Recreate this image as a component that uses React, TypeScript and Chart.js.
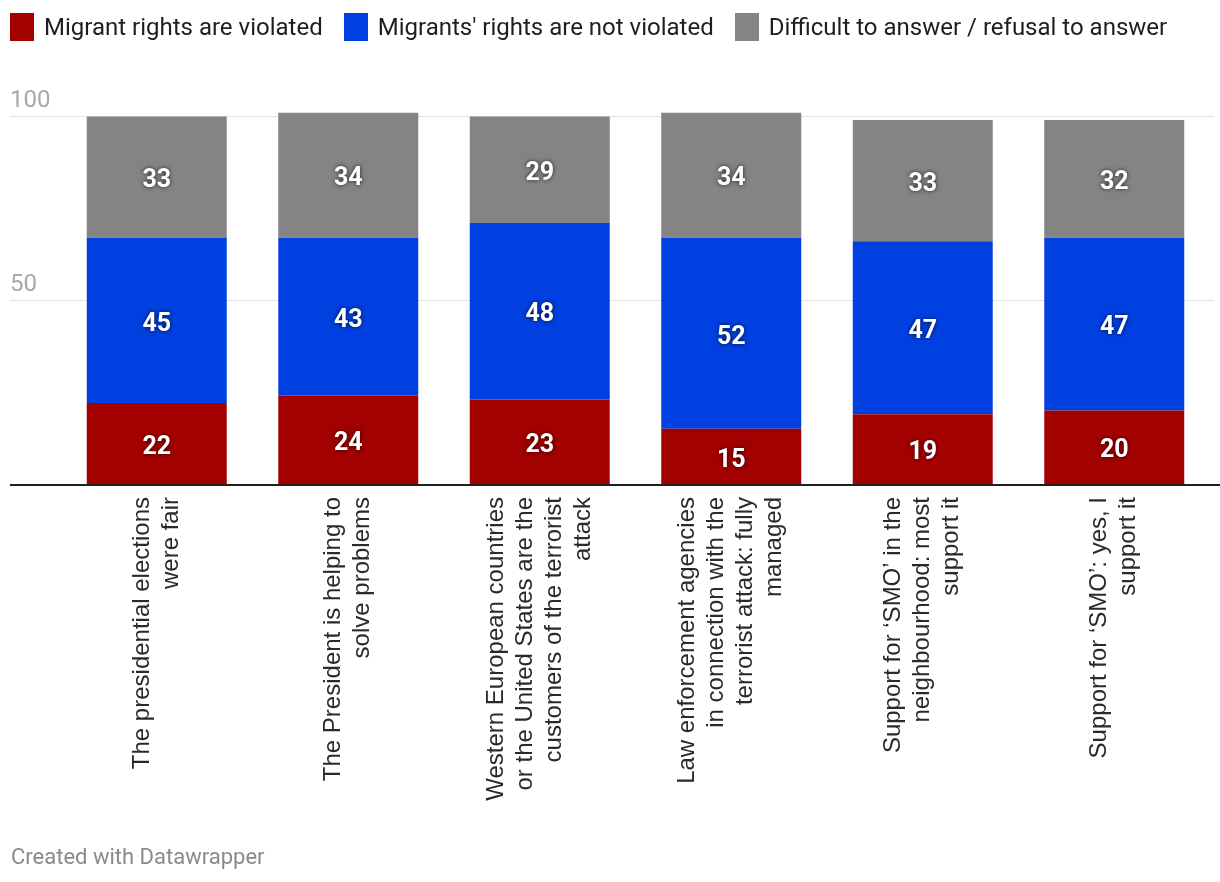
import React, { useEffect, useRef } from "react";
import { Chart, registerables } from "chart.js";

Chart.register(...registerables);

const categories: string[][] = [
  ["The presidential elections", "were fair"],
  ["The President is helping to", "solve problems"],
  ["Western European countries", "or the United States are the", "customers of the terrorist", "attack"],
  ["Law enforcement agencies", "in connection with the", "terrorist attack: fully", "managed"],
  ["Support for \u2018SMO\u2019 in the", "neighbourhood: most", "support it"],
  ["Support for \u2018SMO\u2019: yes, I", "support it"],
];

const violated = [22, 24, 23, 15, 19, 20];
const notViolated = [45, 43, 48, 52, 47, 47];
const difficult = [33, 34, 29, 34, 33, 32];

const seriesNames = [
  "Migrant rights are violated",
  "Migrants' rights are not violated",
  "Difficult to answer / refusal to answer",
];
const seriesColors = ["#a30000", "#0040e0", "#848484"];

const yTicks = [50, 100];

const W = 1220;
const H = 882;

const decorPlugin = {
  id: "decor",
  beforeDatasetsDraw(chart: any) {
    const ctx = chart.ctx;
    const y = chart.scales.y;
    ctx.save();
    yTicks.forEach((t) => {
      const py = Math.round(y.getPixelForValue(t)) + 0.5;
      ctx.strokeStyle = "#e0e0e0";
      ctx.lineWidth = 1;
      ctx.beginPath();
      ctx.moveTo(10, py);
      ctx.lineTo(1214, py);
      ctx.stroke();
      ctx.fillStyle = "#a8a8a8";
      ctx.font = "24px Roboto";
      ctx.textAlign = "left";
      ctx.textBaseline = "alphabetic";
      ctx.fillText(String(t), 10, py - 10);
    });
    ctx.restore();
  },
  afterDatasetsDraw(chart: any) {
    const ctx = chart.ctx;
    const x = chart.scales.x;
    const y = chart.scales.y;
    ctx.save();
    // baseline
    const by = y.getPixelForValue(0);
    ctx.fillStyle = "#1e1e1e";
    ctx.fillRect(10, by, 1210, 2);

    // value labels
    ctx.font = "bold 25px Roboto";
    ctx.textAlign = "center";
    ctx.textBaseline = "middle";
    chart.data.datasets.forEach((ds: any, di: number) => {
      const meta = chart.getDatasetMeta(di);
      meta.data.forEach((bar: any, i: number) => {
        const cy = (bar.y + bar.base) / 2;
        ctx.shadowColor = "rgba(0,0,0,0.75)";
        ctx.shadowBlur = 4;
        ctx.shadowOffsetX = 0;
        ctx.shadowOffsetY = 0;
        ctx.fillStyle = "#ffffff";
        ctx.fillText(String(ds.data[i]), bar.x, cy + 4);
      });
    });
    ctx.shadowColor = "transparent";
    ctx.shadowBlur = 0;

    // category labels (rotated)
    ctx.font = "24px 'Liberation Sans', Arial, sans-serif";
    ctx.fillStyle = "#2a2a2a";
    ctx.textAlign = "right";
    ctx.textBaseline = "middle";
    const lh = 29;
    categories.forEach((lines, i) => {
      const px = x.getPixelForValue(i);
      ctx.save();
      ctx.translate(px, by + 13);
      ctx.rotate(-Math.PI / 2);
      const n = lines.length;
      lines.forEach((ln, li) => {
        ctx.fillText(ln, 0, (li - (n - 1) / 2) * lh);
      });
      ctx.restore();
    });
    ctx.restore();
  },
};

export default function App() {
  const ref = useRef<HTMLCanvasElement | null>(null);

  useEffect(() => {
    if (!ref.current) return;
    const chart = new Chart(ref.current, {
      type: "bar",
      data: {
        labels: categories.map((c) => c.join(" ")),
        datasets: [
          { label: seriesNames[0], data: violated, backgroundColor: seriesColors[0] },
          { label: seriesNames[1], data: notViolated, backgroundColor: seriesColors[1] },
          { label: seriesNames[2], data: difficult, backgroundColor: seriesColors[2] },
        ],
      },
      options: {
        responsive: false,
        animation: false,
        devicePixelRatio: 1,
        layout: { padding: { left: 61, right: 10, top: 98, bottom: 398 } },
        datasets: {
          bar: { barPercentage: 0.731, categoryPercentage: 1, borderWidth: 0 },
        },
        scales: {
          x: { stacked: true, display: false },
          y: { stacked: true, display: false, min: 0, max: 105 },
        },
        plugins: {
          legend: { display: false },
          tooltip: { enabled: false },
        },
      },
      plugins: [decorPlugin],
    });
    return () => chart.destroy();
  }, []);

  const legendItem = (name: string, color: string) => (
    <div key={name} style={{ display: "flex", alignItems: "center", marginRight: 21 }}>
      <div style={{ width: 24, height: 28, background: color, marginRight: 10 }} />
      <span style={{ font: "24px Roboto", color: "#1e1e1e", lineHeight: "28px" }}>{name}</span>
    </div>
  );

  return (
    <div style={{ position: "absolute", left: 0, top: 0, width: W, height: H, background: "#fff" }}>
      <canvas ref={ref} width={W} height={H} style={{ position: "absolute", left: 0, top: 0, width: W, height: H }} />
      <div style={{ position: "absolute", left: 10, top: 13, display: "flex", height: 28 }}>
        {seriesNames.map((n, i) => legendItem(n, seriesColors[i]))}
      </div>
      <div
        style={{
          position: "absolute",
          left: 11,
          top: 844,
          font: "22px Roboto",
          color: "#8a8a8a",
          lineHeight: "26px",
        }}
      >
        Created with Datawrapper
      </div>
    </div>
  );
}
